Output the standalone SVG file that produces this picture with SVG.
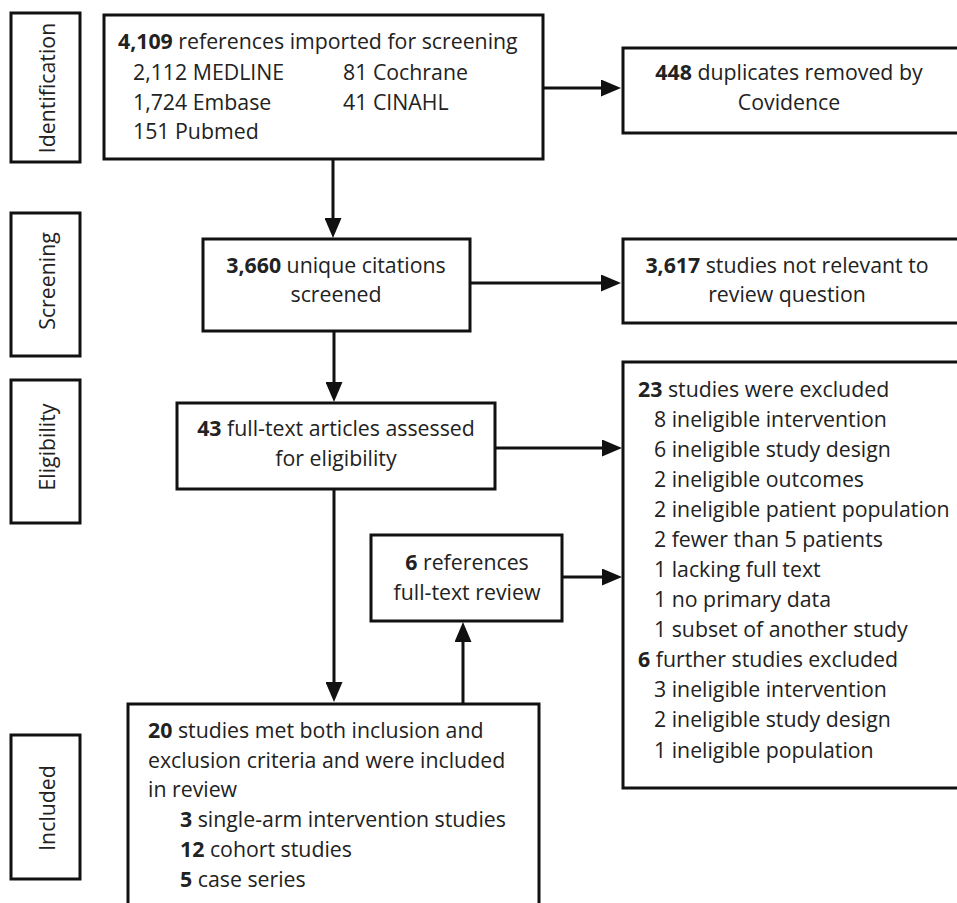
<svg xmlns="http://www.w3.org/2000/svg" width="957" height="903" viewBox="0 0 957 903">
<style>
  .box { fill: #fff; stroke: #111; stroke-width: 3; }
  .lbl { fill: #fff; stroke: #111; stroke-width: 3; }
  text { font-family: "Open Sans", "Liberation Sans", sans-serif; font-size: 21.3px; fill: #222; }
  .c { text-anchor: middle; }
  .b { font-weight: bold; }
  .conn { stroke: #111; stroke-width: 3; fill: none; marker-end: url(#arr); }
</style>
<defs>
  <marker id="arr" viewBox="0 0 20 17" refX="10" refY="8.5" markerWidth="20" markerHeight="17" markerUnits="userSpaceOnUse" orient="auto">
    <path d="M0,0 L20,8.5 L0,17 z" fill="#111"/>
  </marker>
</defs>
<rect x="0" y="0" width="957" height="903" fill="#fff"/>

<g id="label-identification">
  <rect class="lbl" x="11" y="13" width="69" height="149"/>
  <text class="c" transform="translate(55,88) rotate(-90)">Identification</text>
</g>
<g id="label-screening">
  <rect class="lbl" x="11" y="213" width="69" height="143"/>
  <text class="c" transform="translate(55,281) rotate(-90)">Screening</text>
</g>
<g id="label-eligibility">
  <rect class="lbl" x="11" y="380" width="69" height="143"/>
  <text class="c" transform="translate(55,447) rotate(-90)">Eligibility</text>
</g>
<g id="label-included">
  <rect class="lbl" x="11" y="735" width="69" height="144"/>
  <text class="c" transform="translate(55,808) rotate(-90)">Included</text>
</g>

<g id="connectors">
  <path class="conn" d="M543,88 H611"/>
  <path class="conn" d="M333,159 V228"/>
  <path class="conn" d="M470,283 H611"/>
  <path class="conn" d="M334,331 V392"/>
  <path class="conn" d="M495,448 H612"/>
  <path class="conn" d="M334,489 V692"/>
  <path class="conn" d="M562,577 H612"/>
  <path class="conn" d="M463,704 V632"/>
</g>

<g id="node-imported">
  <rect class="box" x="104" y="15" width="439" height="144"/>
  <text x="118" y="49"><tspan class="b">4,109</tspan> references imported for screening</text>
  <text x="133" y="80">2,112 MEDLINE</text>
  <text x="343" y="80">81 Cochrane</text>
  <text x="133" y="110">1,724 Embase</text>
  <text x="343" y="110">41 CINAHL</text>
  <text x="133" y="139">151 Pubmed</text>
</g>

<g id="node-duplicates">
  <rect class="box" x="623" y="48" width="345" height="85"/>
  <text class="c" x="789" y="80"><tspan class="b">448</tspan> duplicates removed by</text>
  <text class="c" x="789" y="110">Covidence</text>
</g>

<g id="node-screened">
  <rect class="box" x="203" y="239" width="267" height="92"/>
  <text class="c" x="336" y="273"><tspan class="b">3,660</tspan> unique citations</text>
  <text class="c" x="336" y="302">screened</text>
</g>

<g id="node-not-relevant">
  <rect class="box" x="623" y="239" width="345" height="84"/>
  <text class="c" x="787" y="273"><tspan class="b">3,617</tspan> studies not relevant to</text>
  <text class="c" x="787" y="302">review question</text>
</g>

<g id="node-fulltext">
  <rect class="box" x="177" y="403" width="318" height="86"/>
  <text class="c" x="336" y="436"><tspan class="b">43</tspan> full-text articles assessed</text>
  <text class="c" x="336" y="466">for eligibility</text>
</g>

<g id="node-excluded">
  <rect class="box" x="623" y="362" width="345" height="426"/>
  <text x="638" y="397"><tspan class="b">23</tspan> studies were excluded</text>
  <text x="654" y="427">8 ineligible intervention</text>
  <text x="654" y="457">6 ineligible study design</text>
  <text x="654" y="487">2 ineligible outcomes</text>
  <text x="654" y="517">2 ineligible patient population</text>
  <text x="654" y="547">2 fewer than 5 patients</text>
  <text x="654" y="577">1 lacking full text</text>
  <text x="654" y="607">1 no primary data</text>
  <text x="654" y="637">1 subset of another study</text>
  <text x="638" y="667"><tspan class="b">6</tspan> further studies excluded</text>
  <text x="654" y="697">3 ineligible intervention</text>
  <text x="654" y="727">2 ineligible study design</text>
  <text x="654" y="758">1 ineligible population</text>
</g>

<g id="node-references">
  <rect class="box" x="371" y="535" width="191" height="86"/>
  <text class="c" x="467" y="570"><tspan class="b">6</tspan> references</text>
  <text class="c" x="467" y="600">full-text review</text>
</g>

<g id="node-included">
  <rect class="box" x="128" y="704" width="411" height="215"/>
  <text x="148" y="738"><tspan class="b">20</tspan> studies met both inclusion and</text>
  <text x="148" y="768">exclusion criteria and were included</text>
  <text x="148" y="797">in review</text>
  <text x="180" y="827"><tspan class="b">3</tspan> single-arm intervention studies</text>
  <text x="180" y="857"><tspan class="b">12</tspan> cohort studies</text>
  <text x="180" y="887"><tspan class="b">5</tspan> case series</text>
</g>
</svg>
